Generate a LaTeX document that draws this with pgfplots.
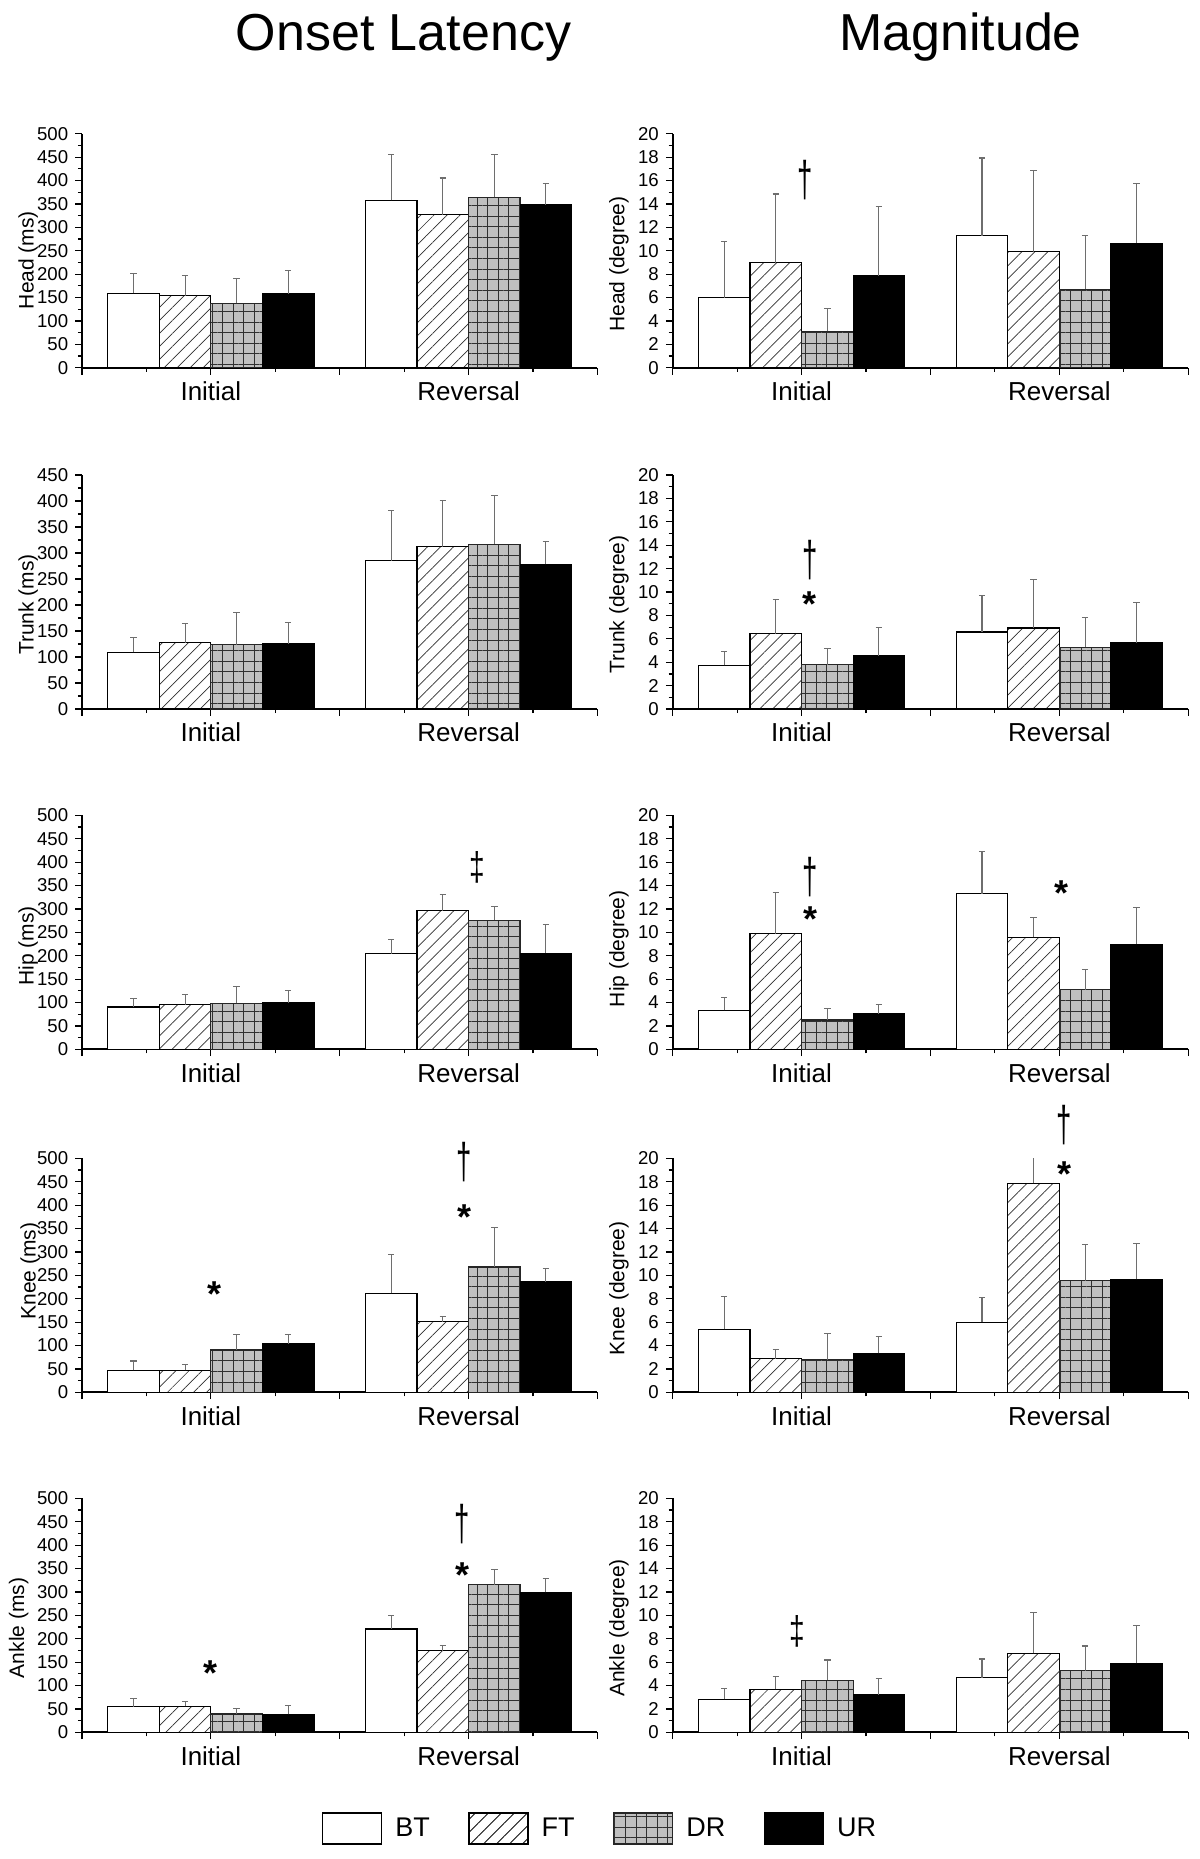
\documentclass[border=0pt]{standalone}
\usepackage{fontspec}
\setmainfont{Liberation Sans}
\usepackage{pgfplots}
\pgfplotsset{compat=1.18}
\usetikzlibrary{patterns.meta}
\definecolor{drfill}{HTML}{C0C0C0}
\definecolor{errc}{HTML}{6E6E6E}
\definecolor{hatchc}{HTML}{303030}
\tikzset{
  btbar/.style={draw=black, fill=white, line width=0.6pt},
  ftbar/.style={draw=black, fill=white, line width=0.6pt, postaction={pattern={Lines[angle=45,distance=4.6pt,line width=0.35pt]}, pattern color=hatchc}},
  drbar/.style={draw=black!85, fill=drfill, line width=0.6pt, postaction={pattern={Hatch[angle=0,distance=5.3pt,line width=0.4pt]}, pattern color=hatchc}},
  urbar/.style={draw=black, fill=black, line width=0.6pt},
  dag/.style={font=\fontsize{25}{25}\selectfont, xscale=0.55, inner sep=0pt},
  ddag/.style={font=\fontsize{20}{20}\selectfont, xscale=0.7, inner sep=0pt},
  star/.style={font=\bfseries\fontsize{18}{18}\selectfont, inner sep=0pt, yshift=-3.8pt},
}
\pgfplotsset{
 panel/.style={
  scale only axis, width=257.75pt, height=117pt,
  axis lines=left, axis line style={-, line width=0.9pt},
  xmin=0, xmax=4, ymin=0,
  xtick={0,1,2,3,4}, xticklabels={,Initial,,Reversal,},
  minor xtick={0.5,1.5,2.5,3.5},
  minor y tick num=1,
  tick align=outside,
  major tick length=3.4pt, minor tick length=2pt,
  tick style={black, line width=0.6pt},
  yticklabel style={font=\fontsize{9.3}{9.3}\selectfont},
  xticklabel style={font=\fontsize{13}{13}\selectfont},
  ylabel style={font=\fontsize{10.5}{10.5}\selectfont},
  /pgf/number format/assume math mode=true,
  clip mode=individual,
  scaled y ticks=false,
  anchor=south west,
 },
 ms/.style={ymax=500, ytick distance=50},
 deg/.style={ymax=20, ytick distance=2},
 yl/.style 2 args={ylabel style={at={(axis description cs:#1,#2)}, anchor=center}},
 ser/.style={ybar, bar shift=0pt, bar width=0.4,
   error bars/y dir=plus, error bars/y explicit,
   error bars/error bar style={errc, line width=0.55pt},
   error bars/error mark options={errc, rotate=90, mark size=1.6pt, line width=0.55pt}},
 BT/.style={ser, btbar, legend image code/.code={\draw[btbar] (0pt,-7.75pt) rectangle (29.5pt,7.75pt);}},
 FT/.style={ser, ftbar, legend image code/.code={\draw[ftbar] (0pt,-7.75pt) rectangle (29.5pt,7.75pt);}},
 DR/.style={ser, drbar, legend image code/.code={\draw[drbar] (0pt,-7.75pt) rectangle (29.5pt,7.75pt);}},
 UR/.style={ser, urbar, legend image code/.code={\draw[urbar] (0pt,-7.75pt) rectangle (29.5pt,7.75pt);}},
}
\begin{document}
\begin{tikzpicture}
\path[use as bounding box] (0,0) rectangle (600pt,-929.5pt);
\node[anchor=base, font=\fontsize{26}{26}\selectfont] at (201.75pt,-25pt) {Onset Latency};
\node[anchor=base, font=\fontsize{26}{26}\selectfont] at (480.25pt,-25pt) {Magnitude};

% Row 1: Head
\begin{axis}[panel, ms, at={(41pt,-183.85pt)}, ylabel={Head (ms)}, yl={-0.1044}{0.460}]
\addplot[BT] coordinates {(0.4,158.6) +- (0,42.7) (2.4,357.7) +- (0,97.5)};
\addplot[FT] coordinates {(0.8,153.6) +- (0,44.1) (2.8,327.2) +- (0,78.2)};
\addplot[DR] coordinates {(1.2,137.3) +- (0,53.3) (3.2,364.1) +- (0,91.8)};
\addplot[UR] coordinates {(1.6,157.9) +- (0,49.8) (3.6,347.8) +- (0,46.2)};
\end{axis}
\begin{axis}[panel, deg, at={(336.35pt,-183.85pt)}, ylabel={Head (degree)}, yl={-0.1042}{0.443}]
\addplot[BT] coordinates {(0.4,5.97) +- (0,4.84) (2.4,11.29) +- (0,6.63)};
\addplot[FT] coordinates {(0.8,8.99) +- (0,5.86) (2.8,9.93) +- (0,6.91)};
\addplot[DR] coordinates {(1.2,3.10) +- (0,1.96) (3.2,6.71) +- (0,4.58)};
\addplot[UR] coordinates {(1.6,7.85) +- (0,5.92) (3.6,10.64) +- (0,5.09)};
\node[dag] at (axis cs:1.03,16.0) {†};
\end{axis}

% Row 2: Trunk
\begin{axis}[panel, ymax=450, ytick distance=50, at={(41pt,-354.5pt)}, ylabel={Trunk (ms)}, yl={-0.1044}{0.447}]
\addplot[BT] coordinates {(0.4,108.7) +- (0,28.1) (2.4,285.1) +- (0,97.2)};
\addplot[FT] coordinates {(0.8,127.8) +- (0,36.5) (2.8,311.9) +- (0,88.3)};
\addplot[DR] coordinates {(1.2,124.0) +- (0,61.4) (3.2,317.1) +- (0,93.3)};
\addplot[UR] coordinates {(1.6,125.9) +- (0,40.9) (3.6,278.1) +- (0,43.4)};
\end{axis}
\begin{axis}[panel, deg, at={(336.35pt,-354.5pt)}, ylabel={Trunk (degree)}, yl={-0.1042}{0.447}]
\addplot[BT] coordinates {(0.4,3.72) +- (0,1.19) (2.4,6.59) +- (0,3.10)};
\addplot[FT] coordinates {(0.8,6.45) +- (0,2.90) (2.8,6.93) +- (0,4.15)};
\addplot[DR] coordinates {(1.2,3.78) +- (0,1.36) (3.2,5.28) +- (0,2.53)};
\addplot[UR] coordinates {(1.6,4.57) +- (0,2.36) (3.6,5.65) +- (0,3.47)};
\node[dag] at (axis cs:1.066,12.75) {†};
\node[star] at (axis cs:1.064,9.65) {*};
\end{axis}

% Row 3: Hip
\begin{axis}[panel, ms, at={(41pt,-524.65pt)}, ylabel={Hip (ms)}, yl={-0.1044}{0.443}]
\addplot[BT] coordinates {(0.4,90.3) +- (0,17.8) (2.4,204.1) +- (0,31.3)};
\addplot[FT] coordinates {(0.8,95.3) +- (0,22.1) (2.8,295.9) +- (0,34.1)};
\addplot[DR] coordinates {(1.2,98.2) +- (0,35.5) (3.2,276.0) +- (0,29.1)};
\addplot[UR] coordinates {(1.6,98.9) +- (0,27.0) (3.6,205.5) +- (0,60.5)};
\node[ddag] at (axis cs:3.065,389.6) {‡};
\end{axis}
\begin{axis}[panel, deg, at={(336.35pt,-524.65pt)}, ylabel={Hip (degree)}, yl={-0.1042}{0.430}]
\addplot[BT] coordinates {(0.4,3.33) +- (0,1.08) (2.4,13.31) +- (0,3.62)};
\addplot[FT] coordinates {(0.8,9.87) +- (0,3.56) (2.8,9.56) +- (0,1.71)};
\addplot[DR] coordinates {(1.2,2.50) +- (0,1.00) (3.2,5.09) +- (0,1.77)};
\addplot[UR] coordinates {(1.6,3.04) +- (0,0.80) (3.6,8.99) +- (0,3.10)};
\node[dag] at (axis cs:1.066,14.7) {†};
\node[star] at (axis cs:1.066,11.75) {*};
\node[star] at (axis cs:3.02,14.0) {*};
\end{axis}

% Row 4: Knee
\begin{axis}[panel, ms, at={(41pt,-696.15pt)}, ylabel={Knee (ms)}, yl={-0.1007}{0.518}]
\addplot[BT] coordinates {(0.4,47.0) +- (0,20.0) (2.4,211.5) +- (0,83.4)};
\addplot[FT] coordinates {(0.8,47.0) +- (0,12.1) (2.8,151.0) +- (0,10.7)};
\addplot[DR] coordinates {(1.2,90.5) +- (0,33.4) (3.2,267.8) +- (0,84.8)};
\addplot[UR] coordinates {(1.6,104.0) +- (0,19.9) (3.6,235.8) +- (0,29.2)};
\node[star] at (axis cs:1.025,225.6) {*};
\node[dag] at (axis cs:2.967,492.7) {†};
\node[star] at (axis cs:2.967,391) {*};
\end{axis}
\begin{axis}[panel, deg, at={(336.35pt,-696.15pt)}, ylabel={Knee (degree)}, yl={-0.1042}{0.4436}]
\addplot[BT] coordinates {(0.4,5.38) +- (0,2.80) (2.4,5.98) +- (0,2.11)};
\addplot[FT] coordinates {(0.8,2.88) +- (0,0.77) (2.8,17.86) +- (0,4.0)};
\addplot[DR] coordinates {(1.2,2.79) +- (0,2.22) (3.2,9.54) +- (0,3.11)};
\addplot[UR] coordinates {(1.6,3.33) +- (0,1.43) (3.6,9.66) +- (0,3.08)};
\node[dag] at (axis cs:3.04,22.8) {†};
\node[star] at (axis cs:3.04,19.3) {*};
\end{axis}

% Row 5: Ankle
\begin{axis}[panel, ms, at={(41pt,-866.15pt)}, ylabel={Ankle (ms)}, yl={-0.123}{0.446},
  legend style={at={(axis description cs:1.007,-0.411)}, anchor=center, draw=none, fill=none,
    legend columns=4, font=\fontsize{13.5}{13.5}\selectfont,
    /tikz/every odd column/.append style={column sep=4.5pt},
    /tikz/every even column/.append style={column sep=17.3pt}}]
\addplot[BT] coordinates {(0.4,54.8) +- (0,17.1) (2.4,220.8) +- (0,29.2)};
\addplot[FT] coordinates {(0.8,55.6) +- (0,10.6) (2.8,174.5) +- (0,11.4)};
\addplot[DR] coordinates {(1.2,39.2) +- (0,12.1) (3.2,315.5) +- (0,32.8)};
\addplot[UR] coordinates {(1.6,38.5) +- (0,18.5) (3.6,299.1) +- (0,29.2)};
\legend{BT,FT,DR,UR}
\node[star] at (axis cs:1.0,143.8) {*};
\node[dag] at (axis cs:2.95,445) {†};
\node[star] at (axis cs:2.95,352.6) {*};
\end{axis}
\begin{axis}[panel, deg, at={(336.35pt,-866.15pt)}, ylabel={Ankle (degree)}, yl={-0.1042}{0.446}]
\addplot[BT] coordinates {(0.4,2.82) +- (0,0.91) (2.4,4.67) +- (0,1.60)};
\addplot[FT] coordinates {(0.8,3.68) +- (0,1.08) (2.8,6.75) +- (0,3.48)};
\addplot[DR] coordinates {(1.2,4.44) +- (0,1.74) (3.2,5.27) +- (0,2.11)};
\addplot[UR] coordinates {(1.6,3.22) +- (0,1.37) (3.6,5.90) +- (0,3.25)};
\node[ddag] at (axis cs:0.97,8.6) {‡};
\end{axis}
\end{tikzpicture}
\end{document}
